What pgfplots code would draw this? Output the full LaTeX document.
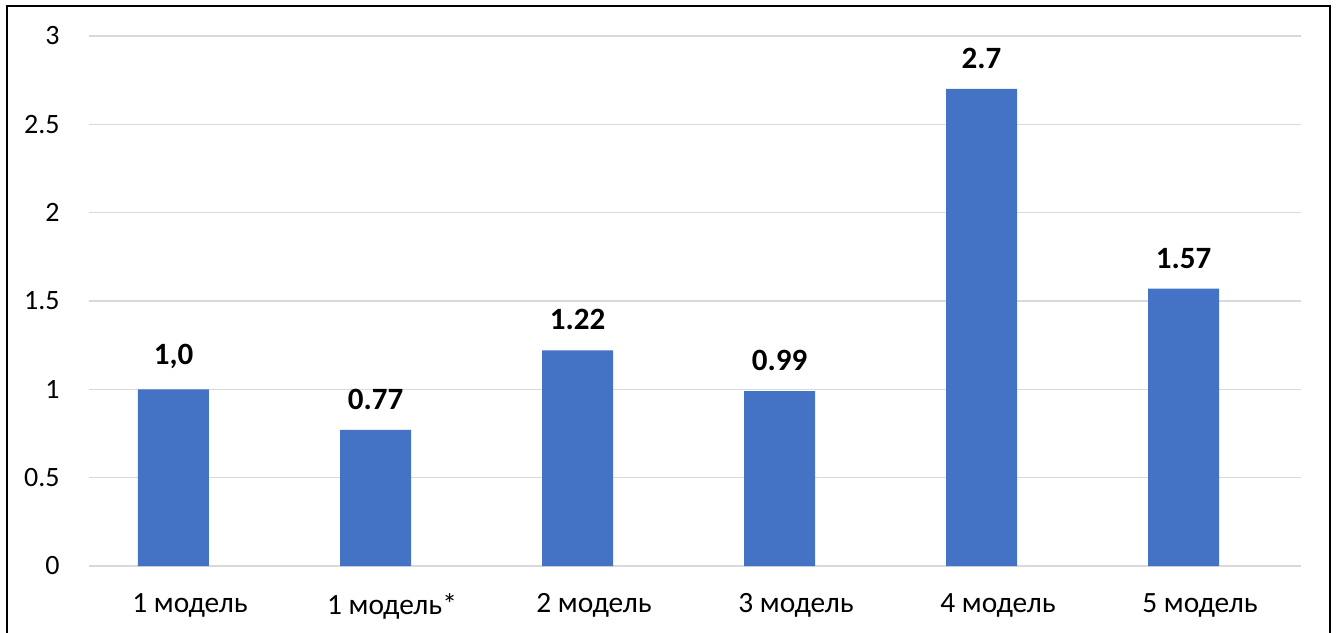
\documentclass[border=0pt]{standalone}
\usepackage{pgfplots}
\pgfplotsset{compat=1.18}
\usepackage{fontspec}
\setmainfont{Carlito}
\definecolor{barblue}{HTML}{4472C4}
\definecolor{gridgray}{HTML}{D9D9D9}
\begin{document}
\begin{tikzpicture}[x=0.5pt,y=0.5pt]
\useasboundingbox (0,0) rectangle (1338,632);
\draw[black,line width=1pt] (7,-5) -- (7,626) -- (1330,626) -- (1330,-5);
\begin{axis}[
  at={(44.5pt,33pt)}, anchor=south west,
  scale only axis, width=606pt, height=265pt,
  xmin=-0.5, xmax=5.5, ymin=0, ymax=3,
  ytick={0,0.5,...,3},
  xtick={0,...,5},
  xticklabels={1 модель,1 модель*,2 модель,3 модель,4 модель,5 модель},
  axis line style={draw=none},
  major tick length=0pt,
  ymajorgrids, grid style={gridgray,line width=0.75pt},
  /pgf/number format/assume math mode=true,
  yticklabel style={font=\fontsize{14}{16}\selectfont, inner sep=0pt, xshift=-14.5pt},
  xticklabel style={font=\fontsize{14.7}{17}\selectfont, inner sep=0pt, yshift=-13.5pt},
  ybar, bar width=35.5pt, bar shift=-8.25pt,
  point meta=explicit symbolic,
  nodes near coords,
  every node near coord/.append style={font=\bfseries\fontsize{15.5}{17}\selectfont, inner sep=0pt, yshift=10pt, anchor=south},
  clip=false,
]
\addplot[fill=barblue, draw=none] coordinates {
  (0,1.0) [1,0]
  (1,0.77) [0.77]
  (2,1.22) [1.22]
  (3,0.99) [0.99]
  (4,2.7) [2.7]
  (5,1.57) [1.57]
};
\end{axis}
\end{tikzpicture}
\end{document}
